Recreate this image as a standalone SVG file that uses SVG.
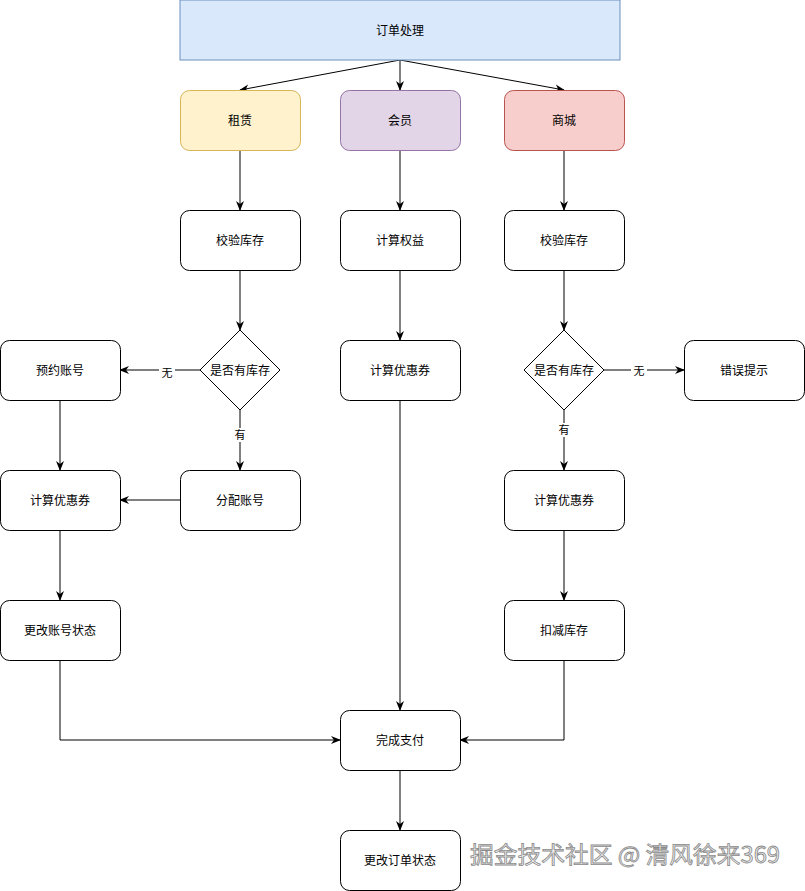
<svg xmlns="http://www.w3.org/2000/svg" width="805" height="891" viewBox="0 0 805 891">
<style>
.n{fill:#fff;stroke:#000;stroke-width:1}
.t{font-family:"Noto Sans CJK SC","Liberation Sans",sans-serif;font-size:12px;fill:#000;text-anchor:middle;dominant-baseline:central}
.l{font-family:"Noto Sans CJK SC","Liberation Sans",sans-serif;font-size:11px;fill:#000;text-anchor:middle;dominant-baseline:central}
.e{fill:none;stroke:#000;stroke-width:1;marker-end:url(#a)}
</style>
<defs>
<marker id="a" viewBox="0 0 10 10" refX="9" refY="5" markerWidth="10" markerHeight="10" markerUnits="userSpaceOnUse" orient="auto">
<path d="M0,1 L10,5 L0,9 L3,5 Z" fill="#000"/>
</marker>
</defs>
<rect width="805" height="891" fill="#fff"/>
<g id="connectors">
<path class="e" d="M400,60 L240,90"/>
<path class="e" d="M400,60 L400,90"/>
<path class="e" d="M400,60 L564,90"/>
<path class="e" d="M240,150 L240,210"/>
<path class="e" d="M400,150 L400,210"/>
<path class="e" d="M564,150 L564,210"/>
<path class="e" d="M240,270 L240,330"/>
<path class="e" d="M400,270 L400,340"/>
<path class="e" d="M564,270 L564,330"/>
<path class="e" d="M200,370 L120,370"/>
<path class="e" d="M240,410 L240,470"/>
<path class="e" d="M604,370 L684,370"/>
<path class="e" d="M564,410 L564,470"/>
<path class="e" d="M60,400 L60,470"/>
<path class="e" d="M180,500 L120,500"/>
<path class="e" d="M60,530 L60,600"/>
<path class="e" d="M564,530 L564,600"/>
<path class="e" d="M60,660 L60,740 L340,740"/>
<path class="e" d="M564,660 L564,740 L460,740"/>
<path class="e" d="M400,400 L400,710"/>
<path class="e" d="M400,770 L400,830"/>
<rect x="159" y="366" width="16" height="14" fill="#fff"/>
<text class="l" x="167" y="372">无</text>
<rect x="232" y="428" width="16" height="14" fill="#fff"/>
<text class="l" x="240" y="434">有</text>
<rect x="631" y="364" width="16" height="14" fill="#fff"/>
<text class="l" x="639" y="370">无</text>
<rect x="556" y="423" width="16" height="14" fill="#fff"/>
<text class="l" x="564" y="429">有</text>
</g>
<g id="order"><rect x="180" y="0" width="440" height="60" fill="#dae8fc" stroke="#6c8ebf"/><text class="t" x="400" y="29">订单处理</text></g>
<g id="rent"><rect x="180.5" y="90.5" width="120" height="60" rx="9" fill="#fff2cc" stroke="#d6b656"/><text class="t" x="240" y="119">租赁</text></g>
<g id="member"><rect x="340.5" y="90.5" width="120" height="60" rx="9" fill="#e1d5e7" stroke="#9673a6"/><text class="t" x="400" y="119">会员</text></g>
<g id="mall"><rect x="504.5" y="90.5" width="120" height="60" rx="9" fill="#f8cecc" stroke="#b85450"/><text class="t" x="564" y="119">商城</text></g>
<g id="check1"><rect class="n" x="180.5" y="210.5" width="120" height="60" rx="9"/><text class="t" x="240" y="239">校验库存</text></g>
<g id="rights"><rect class="n" x="340.5" y="210.5" width="120" height="60" rx="9"/><text class="t" x="400" y="239">计算权益</text></g>
<g id="check2"><rect class="n" x="504.5" y="210.5" width="120" height="60" rx="9"/><text class="t" x="564" y="239">校验库存</text></g>
<g id="dec1"><path class="n" d="M240,330 L280,370 L240,410 L200,370 Z"/><text class="t" x="240" y="369">是否有库存</text></g>
<g id="dec2"><path class="n" d="M564,330 L604,370 L564,410 L524,370 Z"/><text class="t" x="564" y="369">是否有库存</text></g>
<g id="reserve"><rect class="n" x="0.5" y="340.5" width="120" height="60" rx="9"/><text class="t" x="60" y="369">预约账号</text></g>
<g id="coupon2"><rect class="n" x="340.5" y="340.5" width="120" height="60" rx="9"/><text class="t" x="400" y="369">计算优惠券</text></g>
<g id="error"><rect class="n" x="684.5" y="340.5" width="120" height="60" rx="9"/><text class="t" x="744" y="369">错误提示</text></g>
<g id="coupon1"><rect class="n" x="0.5" y="470.5" width="120" height="60" rx="9"/><text class="t" x="60" y="499">计算优惠券</text></g>
<g id="assign"><rect class="n" x="180.5" y="470.5" width="120" height="60" rx="9"/><text class="t" x="240" y="499">分配账号</text></g>
<g id="coupon3"><rect class="n" x="504.5" y="470.5" width="120" height="60" rx="9"/><text class="t" x="564" y="499">计算优惠券</text></g>
<g id="acctstate"><rect class="n" x="0.5" y="600.5" width="120" height="60" rx="9"/><text class="t" x="60" y="629">更改账号状态</text></g>
<g id="deduct"><rect class="n" x="504.5" y="600.5" width="120" height="60" rx="9"/><text class="t" x="564" y="629">扣减库存</text></g>
<g id="pay"><rect class="n" x="340.5" y="710.5" width="120" height="60" rx="9"/><text class="t" x="400" y="739">完成支付</text></g>
<g id="orderstate"><rect class="n" x="340.5" y="830.5" width="120" height="60" rx="9"/><text class="t" x="400" y="859">更改订单状态</text></g>
<text x="470" y="853" font-family="Noto Sans CJK SC,Liberation Sans,sans-serif" font-size="23" fill="#eeeeee" stroke="#8a8a8a" stroke-width="0.8" dominant-baseline="central" textLength="310" lengthAdjust="spacingAndGlyphs">掘金技术社区 @ 清风徐来369</text>
</svg>
